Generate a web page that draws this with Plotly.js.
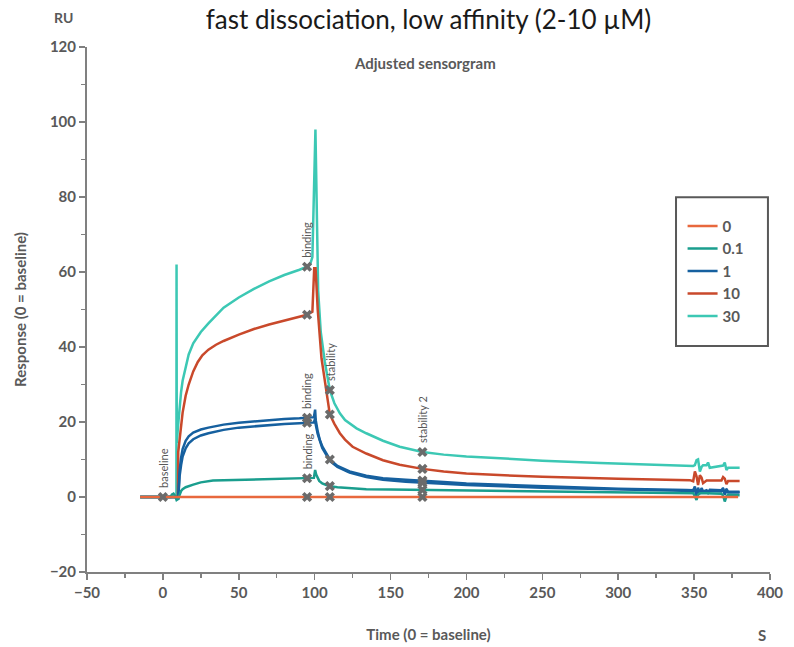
<!DOCTYPE html>
<html>
<head>
<meta charset="utf-8">
<script src="https://cdn.plot.ly/plotly-3.0.1.min.js"></script>
<style>html,body{margin:0;padding:0;background:#fff}#chart{width:794px;height:647px}</style>
</head>
<body>
<div id="chart"></div>
<script>
// ---------- DATA ----------
const seriesNames = ['0', '0.1', '1', '10', '30'];
const seriesColors = ['#E8683D', '#1A9E8E', '#16609F', '#C9492B', '#3CC8B4'];

const time0 = [-15, 379];
const resp0 = [0, 0];

const time01 = [-15, 5, 6, 7, 8, 9, 10, 11, 12, 13, 15, 20, 25, 33, 50, 70, 95, 99.5, 100.3, 101, 103, 105, 107.7, 110, 115, 125, 134, 150, 171, 200, 250, 300, 345, 349.4, 350.5, 351.6, 352.6, 353.8, 358.2, 368, 369.1, 370.2, 371.3, 372.4, 380];
const resp01 = [0, 0, 0.7, 0.9, 0.3, -0.8, -0.5, 0.8, 1.6, 2.1, 2.6, 3.3, 3.9, 4.4, 4.6, 4.8, 5.0, 5.1, 7.2, 6.0, 4.3, 3.6, 3.2, 2.9, 2.6, 2.3, 2.1, 2.0, 1.9, 1.7, 1.4, 1.2, 1.1, 1.0, 0.2, -0.8, 0.6, 1.0, 1.0, 0.9, 0.4, -1.2, 0.2, 0.6, 0.5];

const time1 = [-15, 9.8, 10.1, 10.4, 11, 12, 13, 15, 17, 20, 25, 30, 40, 50, 60, 70, 80, 90, 95, 99.5, 100.3, 100.7, 102, 103.4, 105, 107, 110, 115, 123, 134, 145, 160, 171, 185, 200, 250, 300, 345, 347.2, 349.4, 350.5, 351.6, 352.6, 353.8, 354.9, 355.9, 358.2, 359.2, 360.3, 368, 369.1, 370.2, 371.3, 372.4, 380];
const resp1a = [0, 0, -0.8, 3, 7, 10.5, 12.8, 15, 16.2, 17.2, 18.0, 18.5, 19.3, 19.8, 20.2, 20.5, 20.8, 21.0, 21.1, 21.3, 23.3, 20.5, 17.5, 15.2, 13.5, 12, 10.0, 8.3, 6.8, 5.7, 5.0, 4.6, 4.4, 4.0, 3.6, 2.8, 2.2, 1.9, 1.9, 1.8, 2.8, -0.3, 2.5, 0.8, 2.4, 1.5, 1.8, 1.2, 1.9, 1.8, 2.4, 0.6, 2.2, 1.4, 1.4];
const resp1b = [0, 0, -0.5, 2, 5.5, 8.5, 10.8, 13, 14.3, 15.4, 16.4, 17.0, 17.9, 18.5, 18.9, 19.2, 19.5, 19.7, 19.8, 19.9, 21.0, 19.3, 16.8, 14.8, 13.1, 11.7, 9.6, 8.0, 6.5, 5.3, 4.6, 4.1, 3.8, 3.5, 3.2, 2.5, 2.0, 1.7, 1.7, 1.6, 2.2, 0.4, 2.0, 1.0, 1.9, 1.3, 1.6, 1.1, 1.6, 1.5, 2.0, 0.8, 1.8, 1.2, 1.2];

const time10 = [-15, 9.9, 10.1, 11, 12, 13, 15, 17, 20, 23, 26, 30, 35, 40, 50, 60, 70, 80, 90, 95, 98.5, 99.7, 100.6, 102, 104.5, 106.7, 108.5, 110, 113, 116.6, 120, 125, 134, 145, 156, 171, 185, 200, 225, 250, 300, 345, 347.2, 349.4, 350.5, 351.6, 352.6, 353.8, 354.9, 355.9, 358.2, 368, 369.1, 370.2, 371.3, 372.4, 380];
const resp10 = [0, 0, 12, 15, 19, 22.5, 27, 30, 33.5, 36, 37.8, 39.3, 40.6, 41.6, 43.3, 44.8, 46, 47, 48, 48.6, 49.4, 61, 61, 50, 37, 31, 25, 22, 19.5, 17, 15.3, 13.4, 11.6, 9.8, 8.6, 7.5, 6.8, 6.3, 5.8, 5.4, 4.9, 4.6, 4.5, 4.2, 6.8, 5.5, 3.2, 5.8, 5.2, 3.7, 4.4, 4.4, 5.3, 4.9, 3.4, 4.3, 4.3];

const time30 = [-15, 8.9, 9.0, 9.15, 10, 11, 12, 13, 15, 17, 20, 25, 30, 40, 50, 60, 70, 80, 90, 95, 97, 98.5, 100.5, 102.3, 104, 106.7, 110, 113, 116.6, 120, 127.6, 134, 145, 156, 171, 185, 200, 222, 250, 288, 320, 345, 349.4, 350.5, 351.6, 352.6, 353.8, 354.9, 355.9, 358.2, 359.2, 360.3, 368, 369.1, 370.2, 371.3, 372.4, 380];
const resp30 = [0, 0, 62, 14.4, 19, 24, 28, 31, 35, 38, 41, 44, 46.3, 50.5, 53.2, 55.5, 57.5, 59.2, 60.6, 61.4, 62, 64, 98, 55, 44, 36, 28.5, 25, 22.3, 20.5, 18.3, 17.0, 15.0, 13.4, 12, 11.3, 10.8, 10.3, 9.7, 9.1, 8.6, 8.3, 8.3, 8.5, 9.8, 10, 6.8, 8, 8.5, 8.5, 9.2, 7.8, 8.4, 8.4, 9.2, 7.2, 7.8, 7.8];

// event markers (baseline / binding / stability / stability 2)
const markTime = [0, 95, 95, 95, 95, 95, 95, 110, 110, 110, 110, 110, 171, 171, 171, 171, 171, 171];
const markResp = [0, 61.4, 48.6, 21.1, 19.8, 5.0, 0, 28.5, 22, 10.0, 2.9, 0, 12.0, 7.5, 4.4, 3.8, 1.9, 0];

const labelText = ['baseline', 'binding', 'binding', 'binding', 'stability', 'stability 2'];
const labelTime = [0, 95, 95, 95, 110, 171];
const labelResp = [0, 61.4, 21.1, 5.0, 28.5, 12.0];

// ---------- STYLE ----------
const gray = '#595959';
const axisGray = '#808080';
const fam = 'Lato, "Open Sans", sans-serif';
const boldFont = (s) => ({family: fam, size: s, color: gray, weight: 'bold'});

function line(name, x, y, color, rank, show) {
  return {
    type: 'scatter', mode: 'lines', name: name, x: x, y: y,
    line: {color: color, width: 2.5},
    legendrank: rank, legendgroup: name, showlegend: show, hoverinfo: 'skip'
  };
}

const traces = [
  line(seriesNames[4], time30, resp30, seriesColors[4], 5, true),
  line(seriesNames[3], time10, resp10, seriesColors[3], 4, true),
  line(seriesNames[2], time1, resp1b, seriesColors[2], 3, false),
  line(seriesNames[2], time1, resp1a, seriesColors[2], 3, true),
  line(seriesNames[1], time01, resp01, seriesColors[1], 2, true),
  line(seriesNames[0], time0, resp0, seriesColors[0], 1, true),
  {
    type: 'scatter', mode: 'markers', x: markTime, y: markResp, showlegend: false,
    marker: {symbol: 'x', size: 9, color: '#6b6b6b', line: {width: 0}}, hoverinfo: 'skip'
  }
];

const annotations = labelText.map((t, i) => ({
  x: labelTime[i], y: labelResp[i], xref: 'x', yref: 'y', text: t, showarrow: false,
  textangle: -90, xanchor: 'center', yanchor: 'bottom', yshift: 7,
  font: {family: fam, size: 11, color: gray}
}));
annotations.push(
  {text: 'Adjusted sensorgram', xref: 'paper', yref: 'paper', x: 0.495, y: 0.9695, showarrow: false,
   xanchor: 'center', yanchor: 'middle', font: boldFont(15)},
  {text: 'RU', xref: 'paper', yref: 'paper', x: -0.0337, y: 1.057, showarrow: false,
   xanchor: 'center', yanchor: 'middle', font: boldFont(14)},
  {text: 'S', xref: 'paper', yref: 'paper', x: 0.988, y: -0.12, showarrow: false,
   xanchor: 'center', yanchor: 'middle', font: boldFont(15)}
);

const axisCommon = {
  ticks: 'outside', ticklen: 6, tickwidth: 1.5, tickcolor: axisGray,
  showline: true, linecolor: axisGray, linewidth: 2,
  showgrid: false, zeroline: false, tickfont: boldFont(15), fixedrange: true
};

const layout = {
  width: 794, height: 647,
  margin: {l: 87, r: 24, t: 47, b: 75},
  paper_bgcolor: '#ffffff', plot_bgcolor: '#ffffff',
  title: {
    text: 'fast dissociation, low affinity (2-10 µM)',
    font: {family: fam, size: 26, color: '#1a1a1a'},
    x: 0.5, xref: 'paper', xanchor: 'center',
    y: 0.983, yref: 'container', yanchor: 'top'
  },
  xaxis: Object.assign({}, axisCommon, {
    range: [-50, 400], tick0: -50, dtick: 50,
    minor: {dtick: 25, ticks: 'outside', ticklen: 4, tickcolor: axisGray, tickwidth: 1.5, showgrid: false},
    title: {text: 'Time (0 = baseline)', font: boldFont(15), standoff: 29}
  }),
  yaxis: Object.assign({}, axisCommon, {
    range: [-20, 120], tick0: -20, dtick: 20,
    minor: {dtick: 10, ticks: 'outside', ticklen: 4, tickcolor: axisGray, tickwidth: 1.5, showgrid: false},
    title: {text: 'Response (0 = baseline)', font: boldFont(15), standoff: 20}
  }),
  showlegend: true,
  legend: {
    x: 0.872, y: 0.69, xanchor: 'left', yanchor: 'top',
    bgcolor: 'rgba(0,0,0,0)', borderwidth: 0, traceorder: 'normal',
    font: boldFont(15)
  },
  shapes: [{
    type: 'rect', xref: 'paper', yref: 'paper',
    x0: 0.8624, x1: 0.997, y0: 0.4305, y1: 0.714,
    line: {color: gray, width: 2}, fillcolor: 'rgba(0,0,0,0)'
  }],
  annotations: annotations
};

Plotly.newPlot('chart', traces, layout, {displayModeBar: false, staticPlot: true});
</script>
</body>
</html>
